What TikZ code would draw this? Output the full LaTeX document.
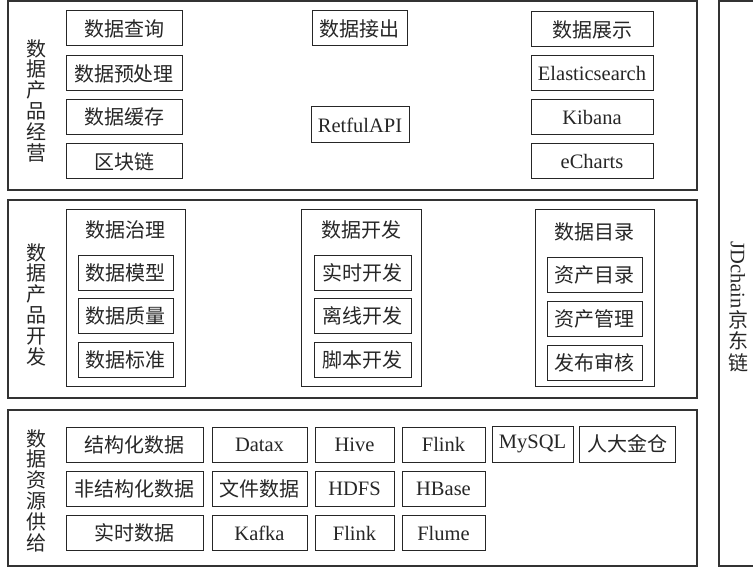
\documentclass[tikz,border=0pt]{standalone}
\usepackage{fontspec}
\setmainfont{Liberation Serif}
\newfontfamily\cjk{Noto Sans CJK SC}
\begin{document}
\begin{tikzpicture}[x=1pt,y=-1pt,
  panel/.style={draw=black!80,line width=1.1pt,inner sep=0pt,minimum width=689pt},
  box/.style={draw=black!85,line width=1pt,inner sep=0pt,text=black!85,minimum height=35pt,
    font=\fontsize{20.5}{24}\selectfont},
  cbox/.style={box,font=\cjk\fontsize{20}{24}\selectfont},
  ctext/.style={inner sep=0pt,text=black!85,font=\cjk\fontsize{20}{24}\selectfont},
  vlabel/.style={inner sep=0pt,text=black!85,align=center,font=\cjk\fontsize{20}{20.8}\selectfont}
]
\useasboundingbox (0,0) rectangle (753,567);
% panels
\node[panel,minimum height=189pt] (p1) at (352.5,95.5) {};
\node[panel,minimum height=198pt] (p2) at (352.5,299) {};
\node[panel,minimum height=156pt] (p3) at (352.5,488) {};
% JDchain box
\coordinate (jt) at (754,1);
\coordinate (jb) at (754,566);
\draw[draw=black!80,line width=1.1pt] (jt) -- (719,1) -- (719,566) -- (jb);
\node[inner sep=0pt,text=black!85,rotate=-90,font=\fontsize{20.5}{24}\selectfont] (jd1) at (738,275) {JDchain};
\node[vlabel,font=\cjk\fontsize{20}{21.5}\selectfont] (jd2) at (738,341) {京\\东\\链};

% ---- panel 1
\node[vlabel] (l1) at (37,100.5) {数\\据\\产\\品\\经\\营};
\node[cbox,minimum width=116pt] (q1) at (124,28.5) {数据查询};
\node[cbox,minimum width=116pt] (q2) at (124,73.5) {数据预处理};
\node[cbox,minimum width=116pt] (q3) at (124,117) {数据缓存};
\node[cbox,minimum width=116pt] (q4) at (124,161.5) {区块链};
\node[cbox,minimum width=95pt] (m1) at (359.5,28.5) {数据接出};
\node[box,minimum width=98pt,minimum height=36pt] (m2) at (360,125) {RetfulAPI};
\node[cbox,minimum width=122pt] (r1) at (592,29.5) {数据展示};
\node[box,minimum width=122pt] (r2) at (592,73.5) {Elasticsearch};
\node[box,minimum width=122pt] (r3) at (592,117.5) {Kibana};
\node[box,minimum width=122pt] (r4) at (592,161.5) {eCharts};

% ---- panel 2
\node[vlabel] (l2) at (37,304.5) {数\\据\\产\\品\\开\\发};
\node[box,minimum width=119pt,minimum height=176pt] (g) at (125.5,298) {};
\node[ctext] (gt) at (125.5,230) {数据治理};
\node[cbox,minimum width=95pt] (g1) at (125.5,272.5) {数据模型};
\node[cbox,minimum width=95pt] (g2) at (125.5,316) {数据质量};
\node[cbox,minimum width=95pt] (g3) at (125.5,360) {数据标准};

\node[box,minimum width=120pt,minimum height=176pt] (d) at (361,298) {};
\node[ctext] (dt) at (361,230) {数据开发};
\node[cbox,minimum width=97pt] (d1) at (362.5,272.5) {实时开发};
\node[cbox,minimum width=97pt] (d2) at (362.5,316) {离线开发};
\node[cbox,minimum width=97pt] (d3) at (362.5,360) {脚本开发};

\node[box,minimum width=119pt,minimum height=176pt] (c) at (594.5,298) {};
\node[ctext] (ct) at (594.5,232) {数据目录};
\node[cbox,minimum width=95pt] (c1) at (594.5,274.5) {资产目录};
\node[cbox,minimum width=95pt] (c2) at (594.5,319) {资产管理};
\node[cbox,minimum width=95pt] (c3) at (594.5,363) {发布审核};

% ---- panel 3
\node[vlabel] (l3) at (37,490.5) {数\\据\\资\\源\\供\\给};
\node[cbox,minimum width=137pt] (s11) at (134.5,444.5) {结构化数据};
\node[cbox,minimum width=137pt] (s21) at (134.5,489) {非结构化数据};
\node[cbox,minimum width=137pt] (s31) at (134.5,533) {实时数据};
\node[box,minimum width=95pt] (s12) at (259.5,444.5) {Datax};
\node[cbox,minimum width=95pt] (s22) at (259.5,489) {文件数据};
\node[box,minimum width=95pt] (s32) at (259.5,533) {Kafka};
\node[box,minimum width=79pt] (s13) at (354.5,444.5) {Hive};
\node[box,minimum width=79pt] (s23) at (354.5,489) {HDFS};
\node[box,minimum width=79pt] (s33) at (354.5,533) {Flink};
\node[box,minimum width=83pt] (s14) at (443.5,444.5) {Flink};
\node[box,minimum width=83pt] (s24) at (443.5,489) {HBase};
\node[box,minimum width=83pt] (s34) at (443.5,533) {Flume};
\node[box,minimum width=81pt,minimum height=36pt] (s15) at (532.5,444) {MySQL};
\node[cbox,minimum width=96pt,minimum height=36pt] (s16) at (627,444) {人大金仓};
\end{tikzpicture}
\end{document}
